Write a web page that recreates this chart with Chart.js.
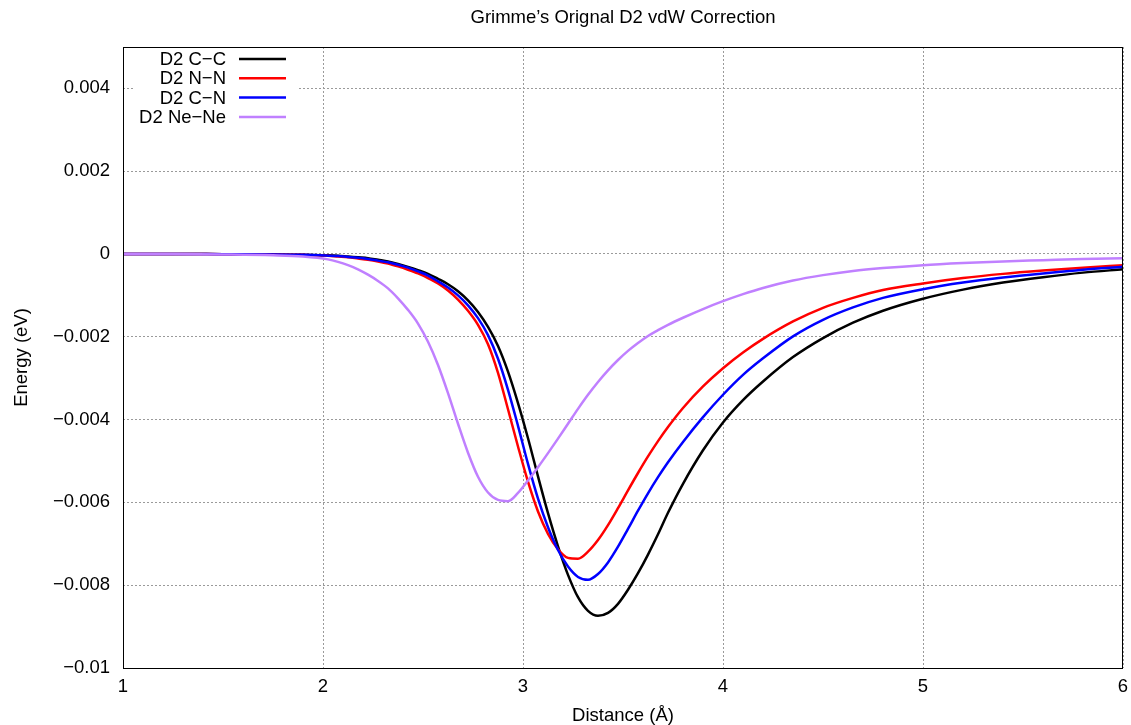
<!DOCTYPE html>
<html>
<head>
<meta charset="utf-8">
<script src="https://cdn.jsdelivr.net/npm/chart.js@4/dist/chart.umd.min.js"></script>
<style>
  html, body { margin: 0; padding: 0; background: #ffffff; }
  #wrap { width: 1131px; height: 725px; position: relative; }
</style>
</head>
<body>
<div id="wrap"><canvas id="c" width="1131" height="725"></canvas></div>
<script>
// ---- data ----
const distance = [1.0, 1.25, 1.5, 1.75, 1.9,
  2.025, 2.075, 2.125, 2.175, 2.225, 2.275, 2.325, 2.375, 2.425, 2.475,
  2.525, 2.575, 2.625, 2.675, 2.725, 2.775, 2.825, 2.875, 2.925, 2.975,
  3.025, 3.075, 3.125, 3.175, 3.225, 3.275, 3.325, 3.375, 3.425, 3.475,
  3.525, 3.575, 3.625, 3.675, 3.725,
  3.8, 3.9, 4.0, 4.1, 4.2, 4.35, 4.5, 4.65, 4.8, 5.0, 5.2, 5.4, 5.6, 5.8, 6.0];

const energyCC = [0, 0, -0.000005, -0.00001, -0.00002,
  -0.00003, -0.00004, -0.00006, -0.00008, -0.0001,
  -0.00014, -0.00018, -0.00024, -0.00031, -0.00039,
  -0.00048, -0.0006, -0.00073, -0.0009, -0.00112,
  -0.0014, -0.00176, -0.00222, -0.00284, -0.0036,
  -0.00445, -0.00537, -0.00626, -0.00706, -0.00775,
  -0.00829, -0.00862, -0.00874, -0.00867, -0.00845,
  -0.00811, -0.00771, -0.00726, -0.00677, -0.00625,
  -0.00555, -0.00474, -0.00407, -0.00353, -0.00308, -0.00249, -0.00203, -0.00166,
  -0.00137, -0.00108, -0.00086, -0.00069, -0.00056, -0.00045, -0.00037];

const energyNN = [0, 0, -0.000005, -0.00001, -0.00002,
  -0.00004, -0.00006, -0.00008, -0.00011, -0.00014,
  -0.00018, -0.00023, -0.0003, -0.00038, -0.00047,
  -0.00058, -0.00071, -0.00088, -0.0011, -0.00137,
  -0.00171, -0.00218, -0.00287, -0.00375, -0.00465,
  -0.0055, -0.00622, -0.00676, -0.00713, -0.00734,
  -0.00736, -0.00719, -0.00691, -0.00655, -0.00614,
  -0.00571, -0.00529, -0.00489, -0.00452, -0.00418,
  -0.00372, -0.0032, -0.00276, -0.00238, -0.00205, -0.00163, -0.0013, -0.00106,
  -0.00087, -0.00071, -0.00058, -0.00048, -0.0004, -0.00033, -0.00027];

const energyCN = [0, 0, -0.000005, -0.00001, -0.00002,
  -0.00004, -0.00005, -0.00007, -0.00009, -0.00012,
  -0.00016, -0.0002, -0.00026, -0.00033, -0.00042,
  -0.00052, -0.00066, -0.00081, -0.001, -0.00124,
  -0.00155, -0.00196, -0.00253, -0.00328, -0.00415,
  -0.00507, -0.00591, -0.0066, -0.00715, -0.00755,
  -0.0078, -0.00787, -0.00773, -0.00745, -0.00707,
  -0.00664, -0.0062, -0.00578, -0.00539, -0.00503,
  -0.00454, -0.00394, -0.0034, -0.00292, -0.00252, -0.00199, -0.00159, -0.00129,
  -0.00106, -0.00085, -0.00069, -0.00057, -0.00047, -0.00038, -0.00031];

const energyNeNe = [0, 0, -0.00001, -0.00003, -0.00006,
  -0.00013, -0.00019, -0.00027, -0.00037, -0.0005,
  -0.00065, -0.00083, -0.00107, -0.00135, -0.00168,
  -0.00212, -0.00268, -0.00336, -0.0041, -0.0048,
  -0.00538, -0.00576, -0.00594, -0.00597, -0.00577,
  -0.00547, -0.00515, -0.00481, -0.00446, -0.0041,
  -0.00374, -0.0034, -0.00309, -0.00281, -0.00256,
  -0.00234, -0.00215, -0.00198, -0.00184, -0.00171,
  -0.00154, -0.00133, -0.00114, -0.00097, -0.00082, -0.00064, -0.00051, -0.00041,
  -0.00034, -0.00027, -0.00022, -0.00018, -0.00015, -0.00012, -0.0001];

const seriesLabels = ['D2 C\u2212C', 'D2 N\u2212N', 'D2 C\u2212N', 'D2 Ne\u2212Ne'];
const seriesColors = ['#000000', '#ff0000', '#0000ff', '#c080ff'];
const xTicks = [1, 2, 3, 4, 5, 6];
const xTickLabels = ['1', '2', '3', '4', '5', '6'];
const yTicks = [-0.01, -0.008, -0.006, -0.004, -0.002, 0, 0.002, 0.004];
const yTickLabels = ['\u22120.01', '\u22120.008', '\u22120.006', '\u22120.004', '\u22120.002', '0', '0.002', '0.004'];
const chartTitle = 'Grimme\u2019s Orignal D2 vdW Correction';
const xTitle = 'Distance (\u00c5)';
const yTitle = 'Energy (eV)';

// ---- chart ----
const FONT = '"Liberation Sans", Arial, Helvetica, sans-serif';
const FS = 18.5;
const seriesValues = [energyCC, energyNN, energyCN, energyNeNe];

const datasets = seriesValues.map((vals, i) => ({
  label: seriesLabels[i],
  data: distance.map((d, k) => ({ x: d, y: vals[k] })),
  borderColor: seriesColors[i],
  backgroundColor: seriesColors[i],
  borderWidth: 2.5,
  pointRadius: 0,
  cubicInterpolationMode: 'monotone',
  fill: false,
  order: seriesValues.length - 1 - i
}));

const decorations = {
  id: 'decorations',
  afterDraw(chart) {
    const ctx = chart.ctx;
    const a = chart.chartArea;
    ctx.save();
    // frame
    ctx.strokeStyle = '#000';
    ctx.lineWidth = 1;
    ctx.setLineDash([]);
    ctx.strokeRect(Math.round(a.left) + 0.5, Math.round(a.top) + 0.5,
                   Math.round(a.right - a.left) - 1, Math.round(a.bottom - a.top));
    // title
    ctx.fillStyle = '#000';
    ctx.font = FS + 'px ' + FONT;
    ctx.textAlign = 'center';
    ctx.textBaseline = 'middle';
    ctx.fillText(chartTitle, (a.left + a.right) / 2, 18);
    // legend
    const lx = a.left + 12, lw = 162, ly = a.top + 1;
    ctx.fillStyle = '#fff';
    ctx.fillRect(lx, ly, lw, 80);
    chart.data.datasets.forEach((ds, i) => {
      const y = a.top + 12 + i * 19.3;
      ctx.fillStyle = '#000';
      ctx.textAlign = 'right';
      ctx.textBaseline = 'middle';
      ctx.fillText(ds.label, a.left + 103, y + 1);
      ctx.strokeStyle = ds.borderColor;
      ctx.lineWidth = 2.5;
      ctx.beginPath();
      ctx.moveTo(a.left + 116, y);
      ctx.lineTo(a.left + 163, y);
      ctx.stroke();
    });
    ctx.restore();
  }
};

new Chart(document.getElementById('c'), {
  type: 'line',
  data: { datasets },
  options: {
    responsive: false,
    animation: false,
    devicePixelRatio: 1,
    layout: { padding: { top: 47, right: 8, left: 0, bottom: 0 } },
    plugins: { legend: { display: false }, title: { display: false }, tooltip: { enabled: false } },
    scales: {
      x: {
        type: 'linear',
        min: 1, max: 6,
        afterBuildTicks: s => { s.ticks = xTicks.map(v => ({ value: v })); },
        afterFit: s => { s.height = 57; s.paddingLeft = 0; s.paddingRight = 0; },
        ticks: {
          color: '#000', font: { family: FONT, size: FS }, padding: 8,
          maxRotation: 0, autoSkip: false,
          callback: (v, i) => xTickLabels[i]
        },
        grid: { color: '#9a9a9a', lineWidth: 1, drawTicks: false },
        border: { display: false, dash: [2, 2] },
        title: { display: true, text: xTitle, color: '#000',
                 font: { family: FONT, size: FS, lineHeight: 1 }, padding: { top: 0, bottom: 0 } }
      },
      y: {
        type: 'linear',
        min: -0.01, max: 0.005,
        afterBuildTicks: s => { s.ticks = yTicks.map(v => ({ value: v })); },
        afterFit: s => { s.width = 123; s.paddingTop = 0; s.paddingBottom = 0; },
        ticks: {
          color: '#000', font: { family: FONT, size: FS }, padding: 13,
          autoSkip: false,
          callback: (v, i) => yTickLabels[i]
        },
        grid: { color: '#9a9a9a', lineWidth: 1, drawTicks: false },
        border: { display: false, dash: [2, 2] },
        title: { display: true, text: yTitle, color: '#000',
                 font: { family: FONT, size: FS, lineHeight: 1.2 }, padding: { top: 11, bottom: 0 } }
      }
    }
  },
  plugins: [decorations]
});
</script>
</body>
</html>
